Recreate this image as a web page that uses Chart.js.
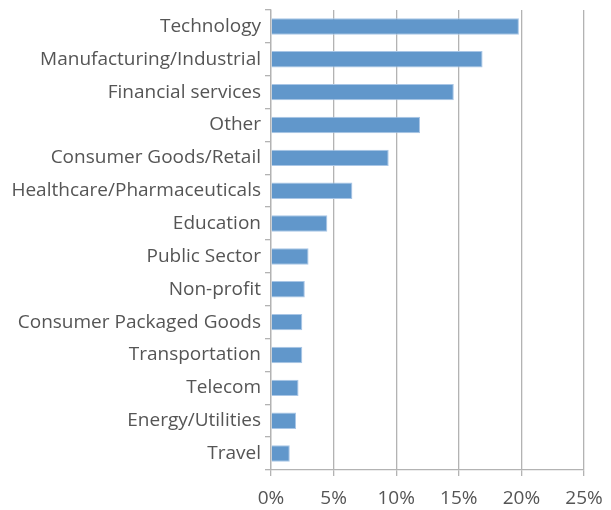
<!DOCTYPE html>
<html>
<head>
<meta charset="utf-8">
<script src="https://cdn.jsdelivr.net/npm/chart.js@4/dist/chart.umd.min.js"></script>
<style>
  html, body { margin: 0; padding: 0; background: #fff; }
  #wrap { width: 611px; height: 510px; }
</style>
</head>
<body>
<div id="wrap"><canvas id="industryChart" width="611" height="510"></canvas></div>
<script>
// Share of respondents by industry
const industries = [
  "Technology",
  "Manufacturing/Industrial",
  "Financial services",
  "Other",
  "Consumer Goods/Retail",
  "Healthcare/Pharmaceuticals",
  "Education",
  "Public Sector",
  "Non-profit",
  "Consumer Packaged Goods",
  "Transportation",
  "Telecom",
  "Energy/Utilities",
  "Travel"
];
const shares = [19.8, 16.9, 14.6, 11.9, 9.4, 6.5, 4.5, 3.0, 2.7, 2.5, 2.5, 2.2, 2.0, 1.5];
const xTicks = [0, 5, 10, 15, 20, 25];

const axisGray = "#b3b3b3";
const labelGray = "#555555";
const labelFont = { family: "'Open Sans', 'Liberation Sans', sans-serif", size: 19 };

new Chart(document.getElementById("industryChart"), {
  type: "bar",
  data: {
    labels: industries,
    datasets: [{
      data: shares,
      backgroundColor: "#6197cb",
      borderColor: "#a9c6e6",
      borderWidth: 1,
      barPercentage: 0.5,
      categoryPercentage: 1
    }]
  },
  options: {
    indexAxis: "y",
    responsive: false,
    animation: false,
    layout: { padding: { top: 10, right: 0, bottom: 0, left: 0 } },
    plugins: { legend: { display: false }, tooltip: { enabled: false } },
    scales: {
      x: {
        min: 0,
        max: 25,
        afterBuildTicks: axis => { axis.ticks = xTicks.map(v => ({ value: v })); },
        afterFit: axis => {
          axis.height = 40;
          // leave room for the "25%" label past the last gridline
          axis.paddingLeft = 0;
          axis.paddingRight = 27;
        },
        ticks: {
          color: labelGray,
          font: labelFont,
          padding: 11,
          callback: v => v + "%"
        },
        grid: { color: axisGray, lineWidth: 1.3, tickLength: 6 },
        border: { color: axisGray, width: 1.3 }
      },
      y: {
        afterFit: axis => {
          axis.width = 271;
          // category labels sit inside their bands, no overhang needed
          axis.paddingTop = 0;
          axis.paddingBottom = 0;
        },
        ticks: { color: labelGray, font: labelFont, padding: 4 },
        grid: { drawOnChartArea: false, color: axisGray, lineWidth: 1.3, tickLength: 6 },
        border: { color: axisGray, width: 1.3 }
      }
    }
  }
});
</script>
</body>
</html>
